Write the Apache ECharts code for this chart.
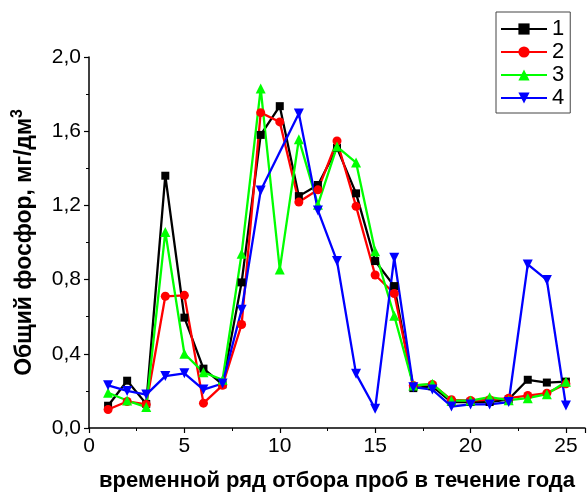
<!DOCTYPE html>
<html>
<head>
<meta charset="utf-8">
<script src="https://cdn.jsdelivr.net/npm/echarts@6/dist/echarts.min.js"></script>
<style>
html,body{margin:0;padding:0;background:#fff;}
#chart{width:588px;height:497px;}
</style>
</head>
<body>
<div id="chart"></div>
<script>
// Data
const xValues = [1,2,3,4,5,6,7,8,9,10,11,12,13,14,15,16,17,18,19,20,21,22,23,24,25];
const series1 = [0.12,0.255,0.13,1.36,0.595,0.32,0.235,0.785,1.58,1.735,1.25,1.31,1.51,1.265,0.90,0.765,0.215,0.225,0.14,0.14,0.14,0.155,0.26,0.245,0.25];
const series2 = [0.10,0.143,0.127,0.71,0.715,0.134,0.23,0.558,1.70,1.65,1.218,1.284,1.547,1.195,0.825,0.725,0.229,0.235,0.152,0.148,0.152,0.161,0.175,0.188,0.238];
const series3 = [0.19,0.148,0.113,1.057,0.40,0.30,0.26,0.94,1.83,0.855,1.557,1.204,1.517,1.431,0.953,0.605,0.229,0.238,0.148,0.148,0.166,0.15,0.161,0.182,0.25];
const series4 = [0.23,0.20,0.18,0.28,0.295,0.207,0.24,0.637,1.28,null,1.696,1.173,0.90,0.292,0.104,0.918,0.22,0.207,0.116,0.127,0.127,0.14,0.882,0.798,0.121];
const seriesNames = ['1','2','3','4'];
const xTitle = 'временной ряд отбора проб в течение года';
const yTitleMain = 'Общий фосфор, мг/дм';
const yTitleSup = '3';

const FONT = '"Liberation Sans", Arial, sans-serif';
const pairs = arr => xValues.map((x,i) => [x, arr[i]]);

const chart = echarts.init(document.getElementById('chart'), null, {renderer:'canvas'});

const mk = (name, arr, color, symbol, size, rotate) => ({
  name, type:'line', data: pairs(arr), connectNulls:true,
  symbol, symbolSize:size, symbolRotate: rotate||0, showAllSymbol:true,
  lineStyle:{color, width:2.3}, itemStyle:{color, borderWidth:0},
  emphasis:{disabled:true}, animation:false
});

chart.setOption({
  animation:false,
  grid:{left:89, right:-3, top:57, bottom:68},
  legend:{
    orient:'vertical', left:496, top:12,
    data: seriesNames,
    itemWidth:46, itemHeight:14, itemGap:1,
    padding:[6,6,4,4],
    borderColor:'#444', borderWidth:1, backgroundColor:'#fff',
    textStyle:{fontFamily:FONT, fontSize:22, color:'#000'},
    itemStyle:{borderWidth:0}
  },
  xAxis:{
    type:'value', min:0, max:26, interval:5,
    name:xTitle, nameLocation:'middle', nameGap:42,
    nameTextStyle:{fontFamily:FONT, fontSize:22, fontWeight:'bold', color:'#000'},
    axisLine:{lineStyle:{color:'#000', width:1.5}},
    axisTick:{length:5, lineStyle:{color:'#000', width:1.2}},
    minorTick:{show:true, splitNumber:2, length:3, lineStyle:{color:'#000', width:1}},
    axisLabel:{fontFamily:FONT, fontSize:21, color:'#000', margin:8,
      formatter: v => (v % 5 === 0 && v <= 25) ? String(v) : ''},
    splitLine:{show:false}
  },
  yAxis:{
    type:'value', min:0, max:2, interval:0.4,
    name:'{a|' + yTitleMain + '}{s|' + yTitleSup + '}', nameLocation:'middle', nameGap:49,
    nameTextStyle:{fontFamily:FONT, fontSize:23, fontWeight:'bold', color:'#000',
      rich:{
        a:{fontFamily:FONT, fontSize:23, fontWeight:'bold', color:'#000', lineHeight:30},
        s:{fontFamily:FONT, fontSize:16, fontWeight:'bold', color:'#000', verticalAlign:'top', lineHeight:30}
      }},
    axisLine:{show:true, lineStyle:{color:'#000', width:1.5}},
    axisTick:{show:true, length:5, lineStyle:{color:'#000', width:1.2}},
    minorTick:{show:true, splitNumber:2, length:3, lineStyle:{color:'#000', width:1}},
    axisLabel:{fontFamily:FONT, fontSize:21, color:'#000', margin:8,
      formatter: v => v.toFixed(1).replace('.', ',')},
    splitLine:{show:false}
  },
  series:[
    mk('1', series1, '#000000', 'rect', 8),
    mk('2', series2, '#ff0000', 'circle', 9),
    mk('3', series3, '#00ff00', 'triangle', 10),
    mk('4', series4, '#0000ff', 'triangle', 10, 180)
  ]
});
</script>
</body>
</html>
